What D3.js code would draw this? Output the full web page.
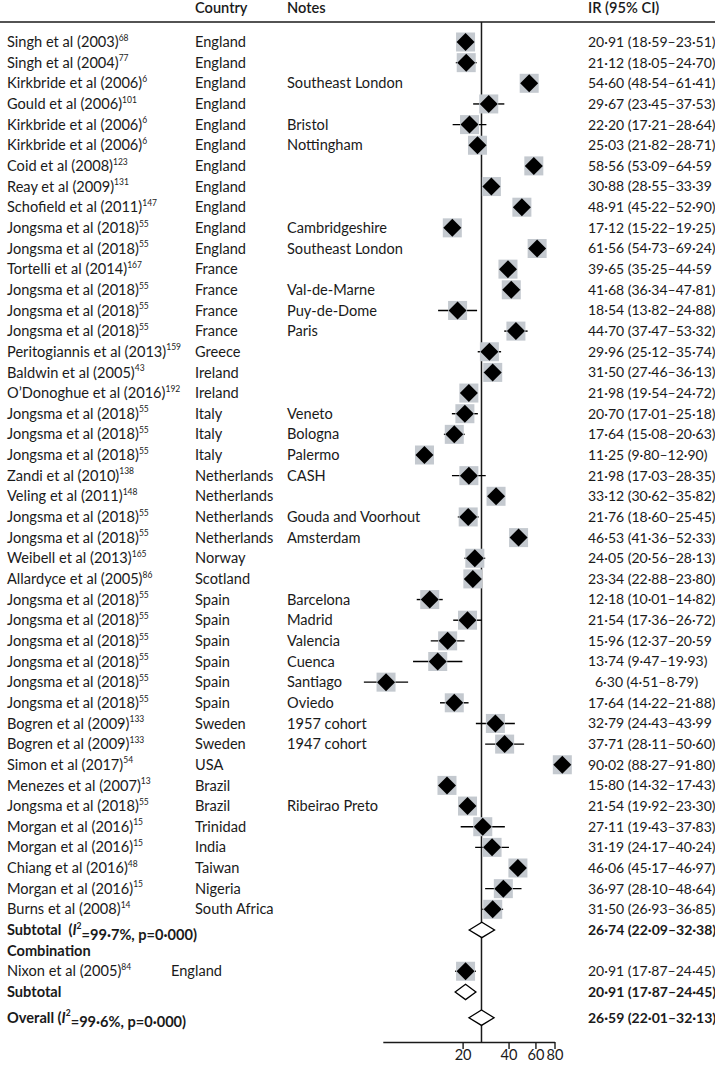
<!DOCTYPE html>
<html><head><meta charset="utf-8">
<script src="https://cdn.jsdelivr.net/npm/d3@7"></script>
<style>
body{margin:0;background:#fff}
svg text{font-family:Lato, "Noto Sans", sans-serif; fill:#1a1a1a; white-space:pre}
</style></head><body>
<svg id="c" width="715" height="1066"></svg>
<script>
const studies=["Singh et al (2003)","Singh et al (2004)","Kirkbride et al (2006)","Gould et al (2006)","Kirkbride et al (2006)","Kirkbride et al (2006)","Coid et al (2008)","Reay et al (2009)","Schofield et al (2011)","Jongsma et al (2018)","Jongsma et al (2018)","Tortelli et al (2014)","Jongsma et al (2018)","Jongsma et al (2018)","Jongsma et al (2018)","Peritogiannis et al (2013)","Baldwin et al (2005)","O’Donoghue et al (2016)","Jongsma et al (2018)","Jongsma et al (2018)","Jongsma et al (2018)","Zandi et al (2010)","Veling et al (2011)","Jongsma et al (2018)","Jongsma et al (2018)","Weibell et al (2013)","Allardyce et al (2005)","Jongsma et al (2018)","Jongsma et al (2018)","Jongsma et al (2018)","Jongsma et al (2018)","Jongsma et al (2018)","Jongsma et al (2018)","Bogren et al (2009)","Bogren et al (2009)","Simon et al (2017)","Menezes et al (2007)","Jongsma et al (2018)","Morgan et al (2016)","Morgan et al (2016)","Chiang et al (2016)","Morgan et al (2016)","Burns et al (2008)"];
const refs=["68","77","6","101","6","6","123","131","147","55","55","167","55","55","55","159","43","192","55","55","55","138","148","55","55","165","86","55","55","55","55","55","55","133","133","54","13","55","15","15","48","15","14"];
const countries=["England","England","England","England","England","England","England","England","England","England","England","France","France","France","France","Greece","Ireland","Ireland","Italy","Italy","Italy","Netherlands","Netherlands","Netherlands","Netherlands","Norway","Scotland","Spain","Spain","Spain","Spain","Spain","Spain","Sweden","Sweden","USA","Brazil","Brazil","Trinidad","India","Taiwan","Nigeria","South Africa"];
const notes=["","","Southeast London","","Bristol","Nottingham","","","","Cambridgeshire","Southeast London","","Val-de-Marne","Puy-de-Dome","Paris","","","","Veneto","Bologna","Palermo","CASH","","Gouda and Voorhout","Amsterdam","","","Barcelona","Madrid","Valencia","Cuenca","Santiago","Oviedo","1957 cohort","1947 cohort","","","Ribeirao Preto","","","","",""];
const est=[20.91,21.12,54.60,29.67,22.20,25.03,58.56,30.88,48.91,17.12,61.56,39.65,41.68,18.54,44.70,29.96,31.50,21.98,20.70,17.64,11.25,21.98,33.12,21.76,46.53,24.05,23.34,12.18,21.54,15.96,13.74,6.30,17.64,32.79,37.71,90.02,15.80,21.54,27.11,31.19,46.06,36.97,31.50];
const lo=[18.59,18.05,48.54,23.45,17.21,21.82,53.09,28.55,45.22,15.22,54.73,35.25,36.34,13.82,37.47,25.12,27.46,19.54,17.01,15.08,9.80,17.03,30.62,18.60,41.36,20.56,22.88,10.01,17.36,12.37,9.47,4.51,14.22,24.43,28.11,88.27,14.32,19.92,19.43,24.17,45.17,28.10,26.93];
const hi=[23.51,24.70,61.41,37.53,28.64,28.71,64.59,33.39,52.90,19.25,69.24,44.59,47.81,24.88,53.32,35.74,36.13,24.72,25.18,20.63,12.90,28.35,35.82,25.45,52.33,28.13,23.80,14.82,26.72,20.59,19.93,8.79,21.88,43.99,50.60,91.80,17.43,23.30,37.83,40.24,46.97,48.64,36.85];
const missingParen=[6,7,11,29,33]; // labels printed without closing bracket in the source
// pooled rows
const pooledLabels=["Subtotal","Subtotal","Overall"];
const pooledEst=[26.74,20.91,26.59];
const pooledLo=[22.09,17.87,22.01];
const pooledHi=[32.38,24.45,32.13];
const pooledI2=["99·7%",null,"99·6%"];
const comboStudy={name:"Nixon et al (2005)",ref:"84",country:"England",est:20.91,lo:17.87,hi:24.45};
const tickValues=[20,40,60,80];
const headers=["Country","Notes","IR (95% CI)"];

const svg=d3.select("#c");
const W=715;
const x=d3.scaleLog().domain([6,80]).range([382.8,554.5]);
const y=d3.scaleLinear().domain([0,1]).range([42,62.65]);
const FS=14, FSN=14.6;
const colStudy=7, colCountry=195, colNotes=287, colIR=588;
const fmt=v=>v.toFixed(2).replace(".","·");
const ciStr=(e,l,h,noParen)=>`${fmt(e)} (${fmt(l)}–${fmt(h)}${noParen?"":")"}`;

// header
const hdr=svg.append("g").attr("font-size",FSN).attr("font-weight",600);
hdr.append("text").attr("x",colCountry).attr("y",13).text(headers[0]);
hdr.append("text").attr("x",colNotes).attr("y",13).text(headers[1]);
hdr.append("text").attr("x",colIR).attr("y",13).text(headers[2]);
svg.append("line").attr("x1",0).attr("x2",W).attr("y1",22).attr("y2",22).attr("stroke","#1a1a1a").attr("stroke-width",1.4);

// reference line (overall)
const overallRow=47.25, axisY=1042;
svg.append("line").attr("x1",x(pooledEst[2])).attr("x2",x(pooledEst[2])).attr("y1",22).attr("y2",axisY).attr("stroke","#1a1a1a").attr("stroke-width",1.5);

function studyRow(i,name,ref,country,note,e,l,h,noParen,countryX){
  const yy=y(i);
  const g=svg.append("g").attr("font-size",FSN);
  const t=g.append("text").attr("x",colStudy).attr("y",yy).attr("dy","0.35em");
  t.append("tspan").text(name);
  t.append("tspan").attr("font-size",8.5).attr("dy","-0.75em").text(ref);
  g.append("text").attr("x",countryX).attr("y",yy).attr("dy","0.35em").text(country);
  if(note) g.append("text").attr("x",colNotes).attr("y",yy).attr("dy","0.35em").text(note);
  const lab=ciStr(e,l,h,noParen);
  g.append("text").attr("x",colIR+(e<10?7:0)).attr("y",yy).attr("dy","0.35em").attr("font-size",FS).text(lab);
  g.append("line").attr("x1",x(l)).attr("x2",x(h)).attr("y1",yy).attr("y2",yy).attr("stroke","#000").attr("stroke-width",1.4);
  const cx=x(e), s=9.5;
  g.append("rect").attr("x",cx-s).attr("y",yy-s).attr("width",2*s).attr("height",2*s).attr("fill","#c4c9cf");
  const d=9;
  g.append("path").attr("d",`M${cx-d},${yy}L${cx},${yy-d}L${cx+d},${yy}L${cx},${yy+d}Z`).attr("fill","#000");
}
studies.forEach((s,i)=>studyRow(i,s,refs[i],countries[i],notes[i],est[i],lo[i],hi[i],missingParen.includes(i),colCountry));

function pooledRow(i,k){
  const yy=y(i);
  const g=svg.append("g").attr("font-size",FSN);
  const t=g.append("text").attr("x",colStudy).attr("y",yy).attr("dy","0.35em").attr("font-weight",700);
  if(pooledI2[k]){
    t.append("tspan").text(pooledLabels[k]+(k===0?"  (":" ("));
    t.append("tspan").attr("font-style","italic").text("I");
    t.append("tspan").attr("font-size",8.5).attr("dy","-0.75em").text("2");
    t.append("tspan").attr("dy","0.75em").text(`=${pooledI2[k]}, p=0·000)`);
  } else t.text(pooledLabels[k]);
  g.append("text").attr("x",colIR).attr("y",yy).attr("dy","0.35em").attr("font-weight",700).attr("font-size",FS).text(ciStr(pooledEst[k],pooledLo[k],pooledHi[k],false));
  const hh=7.7;
  g.append("path").attr("d",`M${x(pooledLo[k])},${yy}L${x(pooledEst[k])},${yy-hh}L${x(pooledHi[k])},${yy}L${x(pooledEst[k])},${yy+hh}Z`)
   .attr("fill","#fff").attr("stroke","#000").attr("stroke-width",1.3);
}
pooledRow(43,0);
svg.append("text").attr("x",colStudy).attr("y",y(44)).attr("dy","0.35em").attr("font-size",FSN).attr("font-weight",700).text("Combination");
studyRow(45,comboStudy.name,comboStudy.ref,comboStudy.country,"",comboStudy.est,comboStudy.lo,comboStudy.hi,false,171);
pooledRow(46,1);
pooledRow(overallRow,2);

// axis
const ax=svg.append("g").attr("transform",`translate(0,${axisY})`)
  .call(d3.axisBottom(x).tickValues(tickValues).tickFormat(d3.format("d")).tickSize(7).tickSizeOuter(0));
ax.select(".domain").attr("stroke","#1a1a1a").attr("stroke-width",1.4);
ax.selectAll(".tick line").attr("stroke","#1a1a1a").attr("stroke-width",1.4);
ax.selectAll(".tick text").attr("font-size",FSN).attr("font-family","Lato, sans-serif").attr("fill","#1a1a1a").attr("dy","0.55em");
</script></body></html>
